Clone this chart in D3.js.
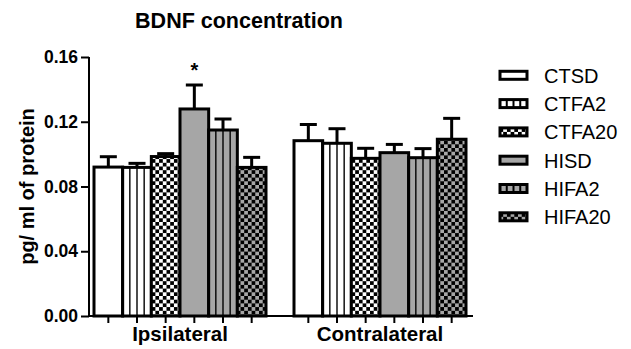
<!DOCTYPE html>
<html>
<head>
<meta charset="utf-8">
<script src="https://cdn.jsdelivr.net/npm/d3@7"></script>
<style>
  html, body { margin: 0; padding: 0; background: #fff; }
  svg { display: block; font-family: "Liberation Sans", Arial, sans-serif; }
</style>
</head>
<body>
<svg id="chart" width="631" height="349"></svg>
<script>
// Group labels along the x axis
const groups = ["Ipsilateral", "Contralateral"];
// Treatment series (one bar per series in each group)
const series = ["CTSD", "CTFA2", "CTFA20", "HISD", "HIFA2", "HIFA20"];
// Mean BDNF concentration per series, [Ipsilateral, Contralateral]
const means = {
  CTSD:   [0.0920, 0.1083],
  CTFA2:  [0.0918, 0.1067],
  CTFA20: [0.0985, 0.0974],
  HISD:   [0.1279, 0.1009],
  HIFA2:  [0.1149, 0.0978],
  HIFA20: [0.0918, 0.1092]
};
// Standard error (upper bar only)
const errors = {
  CTSD:   [0.0064, 0.0100],
  CTFA2:  [0.0025, 0.0090],
  CTFA20: [0.0018, 0.0062],
  HISD:   [0.0148, 0.0051],
  HIFA2:  [0.0068, 0.0056],
  HIFA20: [0.0062, 0.0129]
};
const yTicks = [0, 0.04, 0.08, 0.12, 0.16];
// Significance markers: [series, group index, symbol]
const marks = [["HISD", 0, "*"]];

// Fill style per series
const style = {
  CTSD:   { base: "#ffffff", stripes: false, checks: false },
  CTFA2:  { base: "#ffffff", stripes: true,  checks: false },
  CTFA20: { base: "#ffffff", stripes: false, checks: true },
  HISD:   { base: "#a6a6a6", stripes: false, checks: false },
  HIFA2:  { base: "#a6a6a6", stripes: true,  checks: false },
  HIFA20: { base: "#a6a6a6", stripes: false, checks: true }
};

const svg = d3.select("#chart");
const defs = svg.append("defs");

// Checkerboard fills (black squares on white / grey)
const cell = 3.7;
[["checkW", "#ffffff"], ["checkG", "#a6a6a6"]].forEach(([id, bg]) => {
  const p = defs.append("pattern").attr("id", id)
    .attr("patternUnits", "userSpaceOnUse")
    .attr("width", cell * 2).attr("height", cell * 2);
  p.append("rect").attr("width", cell * 2).attr("height", cell * 2).attr("fill", bg);
  p.append("rect").attr("width", cell).attr("height", cell).attr("fill", "#000");
  p.append("rect").attr("x", cell).attr("y", cell).attr("width", cell).attr("height", cell).attr("fill", "#000");
});
function fillOf(s) {
  const st = style[s];
  if (st.checks) return st.base === "#ffffff" ? "url(#checkW)" : "url(#checkG)";
  return st.base;
}

const y = d3.scaleLinear().domain([0, 0.16]).range([316, 57]);
const x0 = d3.scaleBand().domain(groups).range([94, 466]).paddingInner(0.14).paddingOuter(0);
const x1 = d3.scaleBand().domain(series).range([0, x0.bandwidth()]).padding(0);

const axisX = 89;
const axisEnd = 473;

// Bars
const data = [];
groups.forEach((g, gi) => series.forEach(s => data.push({
  g, s, v: means[s][gi], e: errors[s][gi], x: x0(g) + x1(s), w: x1.bandwidth()
})));

const barG = svg.append("g");
data.forEach(d => {
  const top = y(d.v);
  // error bar (upper half only)
  const capY = y(d.v + d.e);
  const cx = d.x + d.w / 2;
  barG.append("line").attr("x1", cx).attr("x2", cx).attr("y1", top).attr("y2", capY)
    .attr("stroke", "#000").attr("stroke-width", 3);
  barG.append("line").attr("x1", cx - 8.5).attr("x2", cx + 8.5).attr("y1", capY).attr("y2", capY)
    .attr("stroke", "#000").attr("stroke-width", 3);
  barG.append("rect").attr("x", d.x).attr("y", top).attr("width", d.w).attr("height", y(0) - top)
    .attr("fill", fillOf(d.s));
  if (style[d.s].stripes) {
    for (let k = 1; k < 4; k++) {
      const lx = d.x + d.w * k / 4;
      barG.append("line").attr("x1", lx).attr("x2", lx).attr("y1", top).attr("y2", y(0))
        .attr("stroke", "#000").attr("stroke-width", 1.4);
    }
  }
  barG.append("rect").attr("x", d.x).attr("y", top).attr("width", d.w).attr("height", y(0) - top)
    .attr("fill", "none").attr("stroke", "#000").attr("stroke-width", 3);
});

// Significance markers
marks.forEach(([s, gi, txt]) => {
  const cx = x0(groups[gi]) + x1(s) + x1.bandwidth() / 2;
  const capY = y(means[s][gi] + errors[s][gi]);
  svg.append("text").attr("x", cx).attr("y", capY - 8).attr("text-anchor", "middle")
    .attr("font-size", 20).attr("font-weight", "bold").text(txt);
});

// Y axis
const yAxis = d3.axisLeft(y).tickValues(yTicks).tickFormat(d3.format(".2f")).tickSize(8).tickPadding(3);
const gy = svg.append("g").attr("transform", `translate(${axisX},0)`).call(yAxis);
gy.select(".domain").remove();
gy.append("line").attr("x1", 0).attr("x2", 0).attr("y1", y(0.16)).attr("y2", y(0)).attr("stroke", "#000").attr("stroke-width", 2);
gy.selectAll(".tick line").attr("stroke", "#000").attr("stroke-width", 2);
gy.selectAll(".tick text").attr("fill", "#000").attr("font-size", 17.5).attr("font-weight", "bold")
  .attr("font-family", "Liberation Sans, Arial, sans-serif");

// X axis line and ticks at each bar centre
svg.append("line").attr("x1", axisX).attr("x2", axisEnd).attr("y1", y(0)).attr("y2", y(0))
  .attr("stroke", "#000").attr("stroke-width", 2);
data.forEach(d => {
  const cx = d.x + d.w / 2;
  svg.append("line").attr("x1", cx).attr("x2", cx).attr("y1", y(0)).attr("y2", y(0) + 7)
    .attr("stroke", "#000").attr("stroke-width", 2);
});
groups.forEach(g => {
  svg.append("text").attr("x", x0(g) + x0.bandwidth() / 2).attr("y", 341)
    .attr("text-anchor", "middle").attr("font-size", 20.5).attr("font-weight", "bold").text(g);
});

// Axis title
svg.append("text").attr("transform", `translate(34,${(y(0) + y(0.16)) / 2}) rotate(-90)`)
  .attr("text-anchor", "middle").attr("font-size", 20).attr("font-weight", "bold")
  .text("pg/ ml of protein");

// Title
svg.append("text").attr("x", 239).attr("y", 28).attr("text-anchor", "middle")
  .attr("font-size", 21.5).attr("font-weight", "bold").text("BDNF concentration");

// Legend
const leg = svg.append("g");
series.forEach((s, i) => {
  const cy = 75.3 + i * 28.3;
  const g = leg.append("g").attr("transform", `translate(0,${cy})`);
  g.append("rect").attr("x", 500).attr("y", -4).attr("width", 27).attr("height", 8).attr("fill", fillOf(s));
  if (style[s].stripes) {
    for (let k = 1; k < 4; k++) {
      g.append("line").attr("x1", 500 + 27 * k / 4).attr("x2", 500 + 27 * k / 4).attr("y1", -4).attr("y2", 4)
        .attr("stroke", "#000").attr("stroke-width", 2);
    }
  }
  g.append("rect").attr("x", 500).attr("y", -4).attr("width", 27).attr("height", 8)
    .attr("fill", "none").attr("stroke", "#000").attr("stroke-width", 3);
  g.append("text").attr("x", 544).attr("y", 7.5).attr("font-size", 20).text(s);
});
</script>
</body>
</html>
